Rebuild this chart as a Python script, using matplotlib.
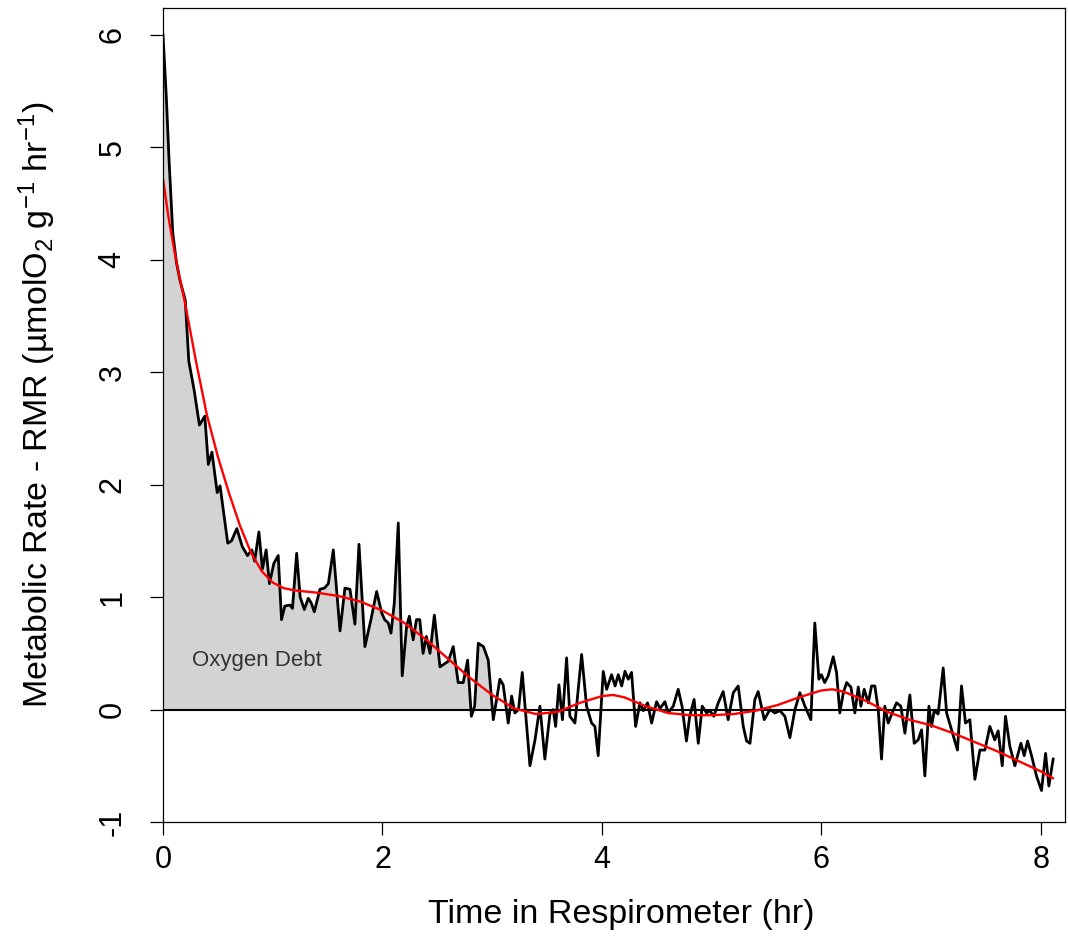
import numpy as np
import matplotlib
matplotlib.use('Agg')
import matplotlib.pyplot as plt

plt.rcParams['font.family'] = ['Liberation Sans', 'DejaVu Sans']
plt.rcParams['mathtext.fontset'] = 'custom'
plt.rcParams['mathtext.rm'] = 'Liberation Sans'
plt.rcParams['mathtext.default'] = 'regular'
plt.rcParams['axes.unicode_minus'] = False

# measured metabolic rate minus RMR (black trace)
tempo = [0.000, 0.030, 0.056, 0.089, 0.122, 0.154, 0.203, 0.235, 0.284, 0.332,
         0.381, 0.413, 0.446, 0.494, 0.520, 0.590, 0.624, 0.673, 0.722, 0.770,
         0.809, 0.835, 0.874, 0.906, 0.940, 0.970, 1.010, 1.050, 1.080, 1.110,
         1.157, 1.180, 1.218, 1.250, 1.288, 1.324, 1.350, 1.379, 1.430, 1.470,
         1.507, 1.552, 1.613, 1.658, 1.704, 1.749, 1.786, 1.840, 1.895, 1.947,
         1.993, 2.020, 2.053, 2.078, 2.108, 2.144, 2.180, 2.220, 2.245, 2.280,
         2.310, 2.340, 2.370, 2.400, 2.433, 2.473, 2.524, 2.570, 2.600, 2.645,
         2.690, 2.736, 2.776, 2.810, 2.840, 2.873, 2.920, 2.964, 3.010, 3.070,
         3.100, 3.146, 3.177, 3.207, 3.240, 3.274, 3.305, 3.344, 3.390, 3.435,
         3.480, 3.526, 3.556, 3.578, 3.608, 3.640, 3.678, 3.708, 3.754, 3.815,
         3.860, 3.906, 3.936, 3.966, 4.012, 4.043, 4.088, 4.120, 4.149, 4.180,
         4.210, 4.240, 4.270, 4.307, 4.346, 4.377, 4.416, 4.453, 4.498, 4.530,
         4.574, 4.604, 4.650, 4.695, 4.730, 4.770, 4.800, 4.840, 4.878, 4.914,
         4.954, 4.984, 5.020, 5.060, 5.105, 5.150, 5.197, 5.242, 5.288, 5.318,
         5.349, 5.394, 5.424, 5.479, 5.531, 5.576, 5.622, 5.667, 5.713, 5.759,
         5.804, 5.850, 5.904, 5.940, 5.977, 6.000, 6.030, 6.062, 6.108, 6.138,
         6.168, 6.200, 6.230, 6.269, 6.305, 6.336, 6.360, 6.390, 6.427, 6.457,
         6.487, 6.518, 6.548, 6.578, 6.609, 6.645, 6.685, 6.724, 6.761, 6.806,
         6.846, 6.882, 6.913, 6.943, 6.980, 7.004, 7.028, 7.064, 7.110, 7.141,
         7.186, 7.240, 7.277, 7.313, 7.353, 7.399, 7.444, 7.490, 7.535, 7.580,
         7.611, 7.648, 7.678, 7.718, 7.763, 7.818, 7.848, 7.879, 7.915, 7.960,
         8.006, 8.043, 8.073, 8.112]
taxa = [6.00, 5.45, 4.87, 4.24, 3.98, 3.82, 3.64, 3.10, 2.84, 2.53,
        2.61, 2.18, 2.29, 1.93, 1.99, 1.48, 1.50, 1.61, 1.45, 1.37,
        1.42, 1.32, 1.58, 1.25, 1.42, 1.12, 1.30, 1.37, 0.80, 0.92,
        0.93, 0.90, 1.39, 1.00, 0.89, 0.99, 0.95, 0.87, 1.07, 1.08,
        1.12, 1.42, 0.70, 1.08, 1.07, 0.76, 1.47, 0.56, 0.80, 1.05,
        0.86, 0.80, 0.77, 0.68, 0.95, 1.66, 0.30, 0.74, 0.83, 0.62,
        0.80, 0.80, 0.50, 0.65, 0.50, 0.84, 0.38, 0.41, 0.43, 0.56,
        0.24, 0.24, 0.44, -0.06, 0.03, 0.59, 0.56, 0.44, -0.09, 0.27,
        0.22, -0.12, 0.12, -0.03, 0.00, 0.33, -0.04, -0.50, -0.27, 0.03,
        -0.44, -0.04, 0.00, -0.15, 0.22, -0.09, 0.46, -0.06, -0.12, 0.49,
        0.03, -0.12, -0.15, -0.41, 0.34, 0.18, 0.31, 0.21, 0.31, 0.21,
        0.34, 0.27, 0.33, -0.15, 0.06, -0.01, 0.06, -0.12, 0.07, 0.01,
        0.07, -0.03, 0.03, 0.18, 0.03, -0.28, -0.06, 0.09, -0.30, 0.03,
        -0.03, -0.01, -0.06, 0.06, 0.16, -0.09, 0.15, 0.21, -0.15, -0.28,
        -0.30, 0.09, 0.16, -0.09, 0.00, -0.03, -0.01, -0.06, -0.25, 0.00,
        0.15, 0.03, -0.09, 0.77, 0.27, 0.31, 0.24, 0.30, 0.47, 0.33,
        -0.03, 0.15, 0.24, 0.20, -0.03, 0.20, 0.03, 0.18, 0.06, 0.21,
        0.21, 0.00, -0.44, 0.03, -0.12, -0.03, 0.06, 0.03, -0.21, 0.13,
        -0.30, -0.27, -0.18, -0.59, 0.03, -0.15, -0.01, -0.04, 0.37, -0.03,
        -0.18, -0.36, 0.21, -0.12, -0.09, -0.62, -0.36, -0.36, -0.15, -0.27,
        -0.19, -0.50, -0.06, -0.33, -0.50, -0.30, -0.41, -0.28, -0.41, -0.59,
        -0.72, -0.39, -0.68, -0.44]

# smoothed fit (red line)
tempo_suave = [0.0, 0.05, 0.1, 0.15, 0.2, 0.3, 0.4, 0.5, 0.6, 0.7, 0.8, 0.9, 1.0, 1.1,
               1.2, 1.4, 1.6, 1.8, 2.0, 2.2, 2.4, 2.6, 2.8, 3.0, 3.2, 3.4, 3.6, 3.8,
               4.0, 4.1, 4.2, 4.4, 4.6, 4.8, 5.0, 5.2, 5.4, 5.6, 5.8, 6.0, 6.1, 6.2,
               6.4, 6.6, 6.8, 7.0, 7.2, 7.4, 7.6, 7.8, 8.0, 8.11]
taxa_suave = [4.72, 4.38, 4.10, 3.85, 3.62, 3.10, 2.62, 2.25, 1.93, 1.64, 1.40, 1.23, 1.13, 1.08,
              1.06, 1.04, 1.01, 0.96, 0.88, 0.77, 0.62, 0.45, 0.28, 0.13, 0.01, -0.04, -0.02, 0.06,
              0.12, 0.13, 0.11, 0.03, -0.03, -0.05, -0.05, -0.04, -0.01, 0.04, 0.11, 0.17, 0.18, 0.16,
              0.08, -0.02, -0.09, -0.14, -0.21, -0.29, -0.37, -0.46, -0.55, -0.61]

fig = plt.figure(figsize=(10.68, 9.48), dpi=100)
ax = fig.add_axes([163/1068, 126/948, 902/1068, 814/948])

t = np.array(tempo)
v = np.array(taxa)
m = t <= 3.02
ax.fill_between(t[m], 0, v[m], where=v[m] > 0, interpolate=True, color='#d3d3d3', lw=0)
ax.axhline(0, color='black', lw=1.5)
ax.plot(t, v, color='black', lw=2.0)
ax.plot(tempo_suave, taxa_suave, color='red', lw=1.7)
ax.text(0.264, 0.436, 'Oxygen Debt', fontsize=16, color='#333333', va='center')

ax.set_xlim(0, 8.22)
ax.set_ylim(-1, 6.24)
ax.set_xticks([0, 2, 4, 6, 8])
ax.set_yticks(range(-1, 7))
ax.tick_params(direction='out', length=9.5, width=0.9, labelsize=22)
ax.tick_params(axis='x', pad=7)
ax.tick_params(axis='y', pad=16, labelrotation=90)
for lbl in ax.get_yticklabels():
    lbl.set_va('center')
for s in ax.spines.values():
    s.set_linewidth(0.9)

ax.set_xlabel('Time in Respirometer (hr)', fontsize=24.5)
ax.xaxis.set_label_coords(0.508, -0.094)
ax.set_ylabel('Metabolic Rate - RMR (µmolO$_2$ g$^{-1}$ hr$^{-1}$)', fontsize=24.5)
ax.yaxis.set_label_coords(-0.116, 0.512)

fig.savefig('out.png', dpi=100)
